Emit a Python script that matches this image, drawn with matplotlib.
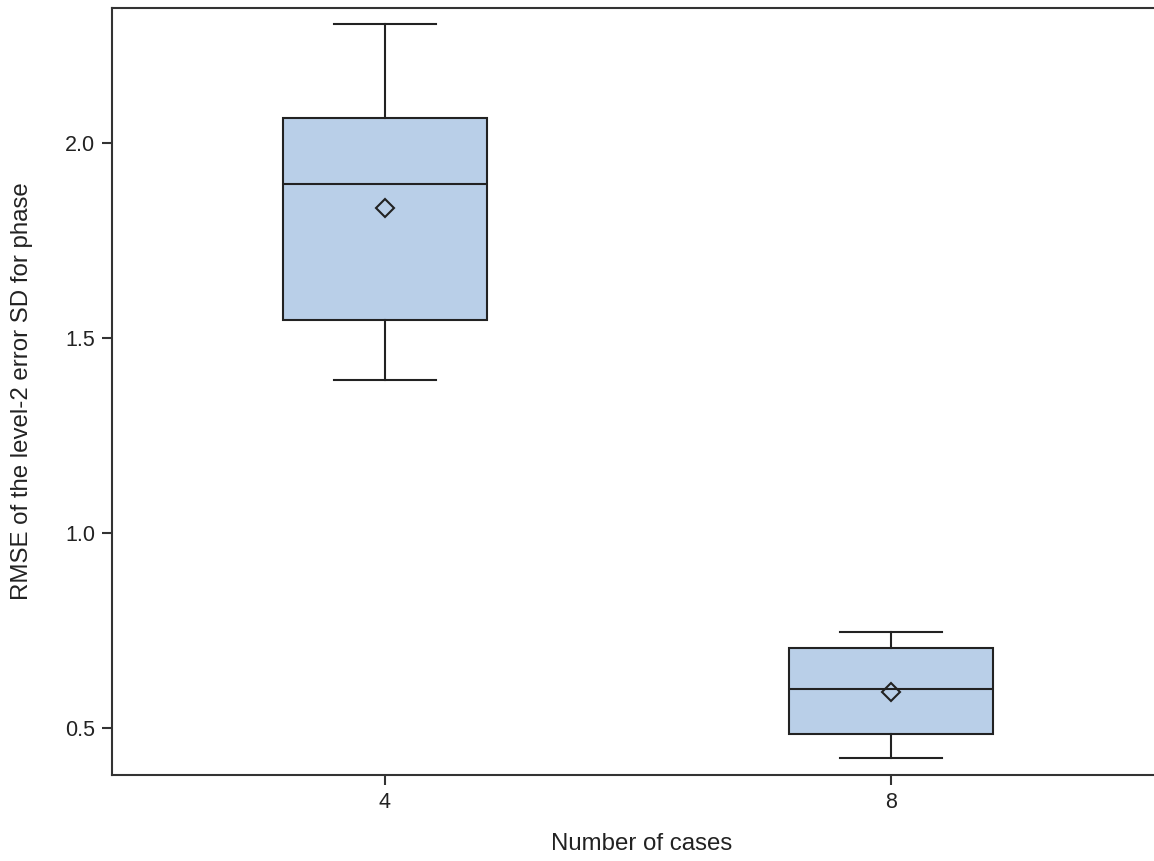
import matplotlib
matplotlib.use("Agg")
import matplotlib.pyplot as plt

# Summary statistics of the RMSE per number of cases
cases = ["4", "8"]
whisker_low = [1.392, 0.423]
q1 = [1.546, 0.485]
median = [1.895, 0.599]
mean = [1.833, 0.592]
q3 = [2.064, 0.705]
whisker_high = [2.304, 0.747]

yticks = [0.5, 1.0, 1.5, 2.0]

plt.rcParams["font.family"] = ["Liberation Sans", "DejaVu Sans"]

W, H = 1154, 861
fig = plt.figure(figsize=(W / 100, H / 100), dpi=100)
# plot frame: left spine at x=112, right spine just past the canvas edge
ax = fig.add_axes([112 / W, 1 - 775 / H, 1050 / W, (775 - 7.5) / H])

stats = []
for i, label in enumerate(cases):
    stats.append(dict(label=label, whislo=whisker_low[i], q1=q1[i], med=median[i],
                      mean=mean[i], q3=q3[i], whishi=whisker_high[i], fliers=[]))

edge = "#222222"
ax.bxp(stats, positions=[1, 2], widths=0.403, capwidths=0.2,
       showmeans=True, patch_artist=True,
       boxprops=dict(facecolor="#B9CFE8", edgecolor=edge, linewidth=1.5),
       medianprops=dict(color=edge, linewidth=1.5),
       whiskerprops=dict(color=edge, linewidth=1.5),
       capprops=dict(color=edge, linewidth=1.5),
       meanprops=dict(marker="D", markerfacecolor="none", markeredgecolor=edge,
                      markersize=9.5, markeredgewidth=1.5))

ax.set_xlim(0.4605, 2.5356)
ax.set_ylim(0.3795, 2.347)
ax.set_yticks(yticks)
ax.set_yticklabels([f"{v:.1f}" for v in yticks])

for side in ["left", "bottom", "top", "right"]:
    ax.spines[side].set_color("#333333")
    ax.spines[side].set_linewidth(1.5)

ax.tick_params(axis="both", direction="out", length=7, width=1.5, color="#333333",
               labelsize=15.5, labelcolor="#222222", pad=5)

ax.set_xlabel("Number of cases", fontsize=17.3, color="#222222")
ax.set_ylabel("RMSE of the level-2 error SD for phase", fontsize=17.3, color="#222222")
ax.xaxis.set_label_coords(0.5048, -(833 - 775) / (775 - 7.5))
ax.yaxis.set_label_coords(-(112 - 33) / 1050, 0.5)

fig.savefig("out.png", dpi=100)
